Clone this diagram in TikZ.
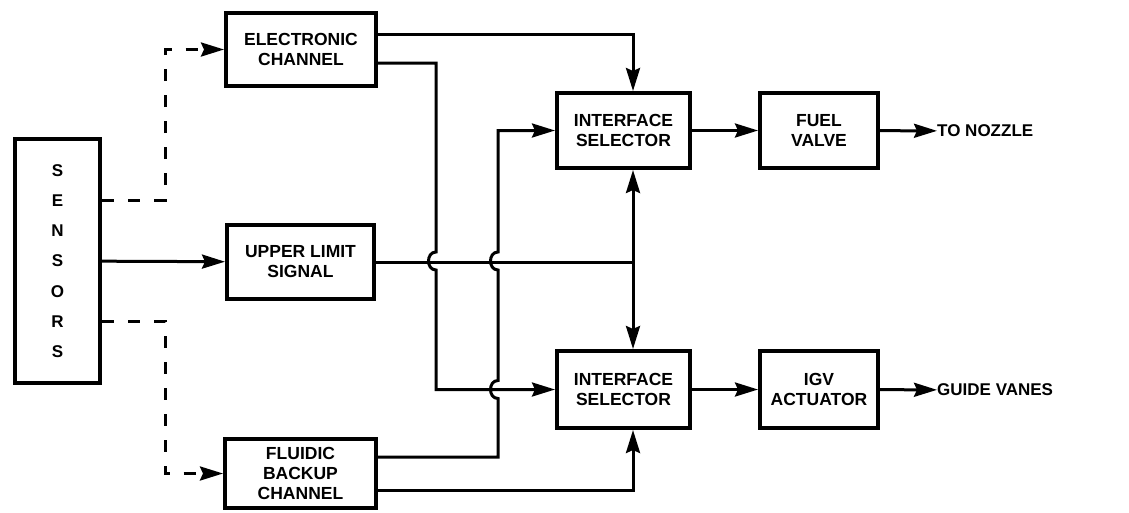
\documentclass[tikz,border=0pt]{standalone}
\usepackage{fontspec}
\setmainfont{Liberation Sans}
\usetikzlibrary{arrows.meta}

\tikzset{
  block/.style={draw, line width=4pt, align=center, inner sep=0pt,
    font=\fontsize{17.5}{20}\selectfont\bfseries},
  link/.style={line width=3pt},
  flow/.style={link, -{Stealth[length=23pt,width=14pt,inset=3pt]}},
  twoway/.style={link, {Stealth[length=23pt,width=14pt,inset=3pt]}-{Stealth[length=23pt,width=14pt,inset=3pt]}},
  backup/.style={flow, dash pattern=on 12pt off 14pt},
  outlet/.style={anchor=west, inner sep=0pt, font=\fontsize{17}{20}\selectfont\bfseries},
}

\begin{document}
\begin{tikzpicture}[x=1pt, y=-1pt]
\useasboundingbox (0,0) rectangle (1129,512);
% blocks
\node[block, minimum width=85pt, minimum height=244pt,
  font=\fontsize{17}{30.2}\selectfont\bfseries] (sensors) at (57.5,261) {S\\E\\N\\S\\O\\R\\S};
\node[block, minimum width=150pt, minimum height=73pt] (elec) at (301,49.5) {ELECTRONIC\\CHANNEL};
\node[block, minimum width=147pt, minimum height=74pt] (upper) at (300.5,262) {UPPER LIMIT\\SIGNAL};
\node[block, minimum width=151pt, minimum height=69pt] (fluidic) at (300.5,473.5) {FLUIDIC\\BACKUP\\CHANNEL};
\node[block, minimum width=133pt, minimum height=75pt] (selA) at (623.5,130.5) {INTERFACE\\SELECTOR};
\node[block, minimum width=133pt, minimum height=77pt] (selB) at (623.5,389.5) {INTERFACE\\SELECTOR};
\node[block, minimum width=118pt, minimum height=75pt] (fuel) at (819,130.5) {FUEL\\VALVE};
\node[block, minimum width=118pt, minimum height=77pt] (igv) at (819,389.5) {IGV\\ACTUATOR};
\node[outlet] (nozzle) at (937,131) {TO NOZZLE};
\node[outlet] (vanes) at (937,390) {GUIDE VANES};
% bus columns
\coordinate (busA) at (436,0);
\coordinate (busB) at (498,0);
\coordinate (busC) at (633,0);
\coordinate (tap) at (165,0);
% sensor outputs
\draw[backup] (sensors.east |- 0,200) -| (tap |- elec) -- (elec.west);
\draw[flow] (sensors) -- (upper);
\draw[backup] (sensors.east |- 0,321) -| (tap |- fluidic) -- (fluidic.west);
% electronic channel
\draw[flow] (elec.east |- 0,34) -| (selA.north -| busC);
\draw[flow] (elec.east |- 0,63) -| (busA |- 0,252)
  .. controls (426,252) and (426,270) .. (busA |- 0,270) |- (selB.west);
% fluidic backup channel
\draw[flow] (fluidic.east |- 0,457) -| (busB |- 0,398.5)
  .. controls (488,398.5) and (488,380.5) .. (busB |- 0,380.5)
  -- (busB |- 0,270)
  .. controls (488,270) and (488,252) .. (busB |- 0,252) |- (selA.west);
\draw[flow] (fluidic.east |- 0,490) -| (selB.south -| busC);
% upper limit signal
\draw[link] (upper) -- (busC |- upper);
\draw[twoway] (selA.south -| busC) -- (selB.north -| busC);
% outputs
\draw[flow] (selA) -- (fuel);
\draw[flow] (fuel) -- (nozzle);
\draw[flow] (selB) -- (igv);
\draw[flow] (igv) -- (vanes);
\end{tikzpicture}
\end{document}
